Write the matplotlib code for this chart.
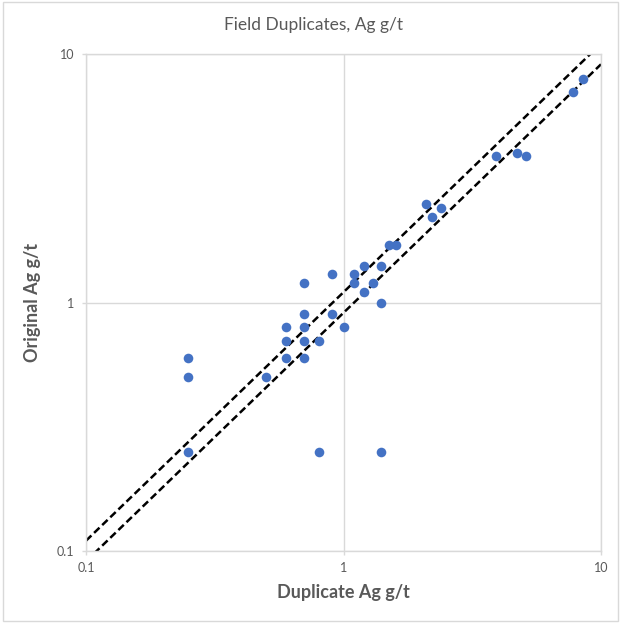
import matplotlib
matplotlib.use('agg')
import matplotlib.pyplot as plt
from matplotlib.ticker import FixedLocator, FixedFormatter, NullLocator

# field duplicate pairs
duplicate = [0.25, 0.25, 0.25, 0.5, 0.8, 1.4,
             0.7, 0.6, 0.7, 0.7, 0.6, 0.7, 0.8, 0.6, 0.7,
             0.9, 0.9, 1.0, 1.1, 1.1, 1.2, 1.2, 1.3, 1.4, 1.4,
             1.5, 1.6, 2.1, 2.2, 2.4, 3.9, 4.7, 5.1, 7.8, 8.5]
original = [0.6, 0.5, 0.25, 0.5, 0.25, 0.25,
            1.2, 0.8, 0.8, 0.9, 0.7, 0.7, 0.7, 0.6, 0.6,
            0.9, 1.3, 0.8, 1.3, 1.2, 1.4, 1.1, 1.2, 1.4, 1.0,
            1.7, 1.7, 2.5, 2.2, 2.4, 3.9, 4.0, 3.9, 7.0, 7.9]

# +/- 10% limit lines
limit_x = [0.1, 10]
upper_y = [0.11, 11]
lower_y = [0.1 / 1.1, 10 / 1.1]

ticks = [0.1, 1, 10]
tick_labels = ['0.1', '1', '10']

grey = '#595959'
grid_grey = '#d9d9d9'
plt.rcParams['font.family'] = ['Lato', 'DejaVu Sans']

fig = plt.figure(figsize=(6.22, 6.23), dpi=100)
ax = fig.add_axes([86 / 622, 72 / 623, 515 / 622, 497 / 623])

ax.plot(limit_x, upper_y, color='black', linestyle=(0, (3, 1.5)), linewidth=1.8, zorder=2)
ax.plot(limit_x, lower_y, color='black', linestyle=(0, (3, 1.5)), linewidth=1.8, zorder=2)
ax.scatter(duplicate, original, s=48, color='#4472c4', zorder=3, linewidths=0)

ax.set_xscale('log')
ax.set_yscale('log')
ax.set_xlim(0.1, 10)
ax.set_ylim(0.1, 10)
for axis in (ax.xaxis, ax.yaxis):
    axis.set_major_locator(FixedLocator(ticks))
    axis.set_major_formatter(FixedFormatter(tick_labels))
    axis.set_minor_locator(NullLocator())
ax.grid(True, color=grid_grey, linewidth=1)
for sp in ax.spines.values():
    sp.set_color(grid_grey)
    sp.set_linewidth(1)
ax.tick_params(axis='both', colors=grid_grey, labelcolor=grey, labelsize=9, length=3, width=1)
ax.tick_params(axis='x', pad=5)
ax.tick_params(axis='y', pad=5.5)

ax.set_xlabel('Duplicate Ag g/t', fontsize=13, fontweight='bold', color=grey, labelpad=7)
ax.set_ylabel('Original Ag g/t', fontsize=13, fontweight='bold', color=grey, labelpad=11)
fig.text(313 / 622, 1 - 25 / 623, 'Field Duplicates, Ag g/t', fontsize=12.5, color=grey,
         ha='center', va='center')

# outer chart border
fig.add_artist(plt.Rectangle((3 / 622, 2 / 623), 615 / 622, 619 / 623, transform=fig.transFigure,
                             fill=False, edgecolor=grid_grey, linewidth=1))

fig.savefig('out.png', dpi=100, facecolor='white')
